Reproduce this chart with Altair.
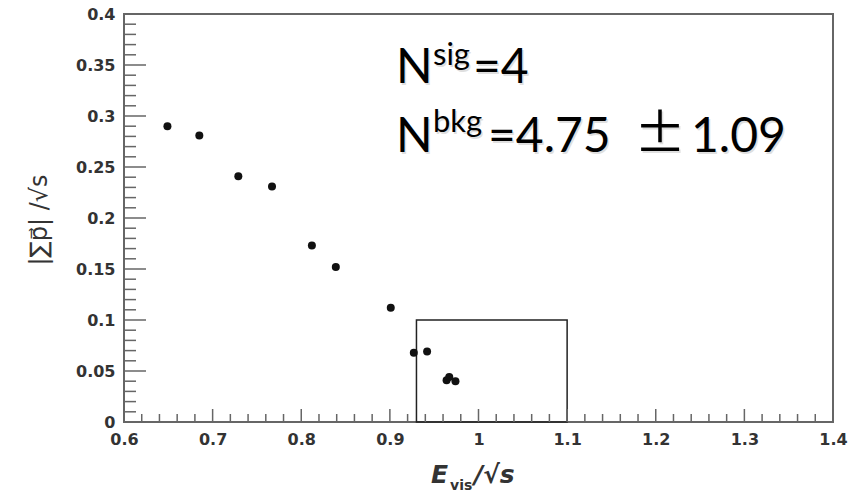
import altair as alt
import pandas as pd

# Event positions: visible energy vs. total momentum, both scaled by sqrt(s)
e_vis = [0.649, 0.685, 0.729, 0.767, 0.812, 0.839, 0.901, 0.927, 0.942, 0.964, 0.967, 0.974]
p_sum = [0.290, 0.281, 0.241, 0.231, 0.173, 0.152, 0.112, 0.068, 0.069, 0.041, 0.044, 0.040]

# Signal region box
box_x = [0.93, 1.10]
box_y = [0.0, 0.10]

# Axis ticks
x_major = [0.6, 0.7, 0.8, 0.9, 1.0, 1.1, 1.2, 1.3, 1.4]
x_minor = [round(0.6 + 0.02 * i, 2) for i in range(41) if i % 5 != 0]
y_major = [0.0, 0.05, 0.1, 0.15, 0.2, 0.25, 0.3, 0.35, 0.4]
y_minor = [round(0.01 * i, 2) for i in range(41) if i % 5 != 0]

W, H = 709, 408
FRAME = "#666666"
LABEL = "#333333"

xs = alt.Scale(domain=[0.6, 1.4], nice=False, zero=False)
ys = alt.Scale(domain=[0.0, 0.4], nice=False, zero=True)

axis_common = dict(
    format="~g", labelFont="DejaVu Sans", labelFontWeight="bold", labelFontSize=16,
    labelColor=LABEL, ticks=False, tickSize=0, domain=False, grid=False,
    labelFlush=False, labelPadding=9, title=None,
)

pts = pd.DataFrame({"e": e_vis, "p": p_sum})
points = alt.Chart(pts).mark_circle(size=64, color="#111111", opacity=1).encode(
    x=alt.X("e:Q", scale=xs, axis=alt.Axis(values=x_major, **axis_common)),
    y=alt.Y("p:Q", scale=ys, axis=alt.Axis(values=y_major, **axis_common)),
)

box = alt.Chart(pd.DataFrame({"x0": [box_x[0]], "x1": [box_x[1]], "y0": [box_y[0]], "y1": [box_y[1]]})).mark_rect(
    fill=None, fillOpacity=0, stroke="#222222", strokeWidth=1.5
).encode(
    x=alt.X("x0:Q", scale=xs), x2="x1:Q", y=alt.Y("y0:Q", scale=ys), y2="y1:Q"
)


def yticks(vals, length):
    return alt.Chart(pd.DataFrame({"v": vals})).mark_rule(color=FRAME, strokeWidth=1.5).encode(
        y=alt.Y("v:Q", scale=ys), x=alt.value(0), x2=alt.value(length)
    )


def xticks(vals, length):
    return alt.Chart(pd.DataFrame({"v": vals})).mark_rule(color=FRAME, strokeWidth=1.5).encode(
        x=alt.X("v:Q", scale=xs), y=alt.value(H), y2=alt.value(H - length)
    )


def label(text, x, y, size, font="Lato", color="black", weight="normal", style="normal",
          angle=0, align="left", baseline="alphabetic", opacity=1.0):
    return alt.Chart(pd.DataFrame({"t": [text]})).mark_text(
        font=font, fontSize=size, color=color, fontWeight=weight, fontStyle=style,
        angle=angle, align=align, baseline=baseline, opacity=opacity,
    ).encode(text="t:N", x=alt.value(x), y=alt.value(y))


# Event counts in the signal region, with a soft drop shadow
count_parts = [
    ("N", 272, 69, 48, "Lato"), ("sig", 309, 51, 31, "Lato"), ("=4", 349, 69, 48, "Lato"),
    ("N", 272, 138, 48, "Lato"), ("bkg", 309, 118, 31, "Lato"), ("=4.75", 364, 138, 48, "Lato"),
    ("±", 510, 138, 52, "Noto Sans CJK JP"), ("1.09", 567, 138, 48, "Lato"),
]
shadow = [label(t, x + 1.5, y + 1.5, s, font=f, color="#999999", opacity=0.3)
          for t, x, y, s, f in count_parts]
counts = [label(t, x, y, s, font=f) for t, x, y, s, f in count_parts]

# Axis titles
x_title = [
    label("E", 307, 469, 25, font="DejaVu Sans", color=LABEL, weight="bold", style="italic"),
    label("vis", 326, 476, 14, font="DejaVu Sans", color=LABEL, weight="bold"),
    label("/√s", 350, 469, 25, font="DejaVu Sans", color=LABEL, weight="bold", style="italic"),
]
y_title = label("|∑p⃗| /√s", -84, 206, 24, font="DejaVu Sans", color=LABEL,
                angle=270, align="center", baseline="middle")

chart = alt.layer(
    box, yticks(y_major, 22), yticks(y_minor, 12), xticks(x_major, 13), xticks(x_minor, 8),
    points, *shadow, *counts, *x_title, y_title,
).properties(
    width=W, height=H,
    autosize=alt.AutoSizeParams(type="none"),
    padding={"left": 124, "top": 14, "right": 18, "bottom": 74},
).configure_view(stroke=FRAME, strokeWidth=2)

chart.save("out.html", embed_options={"renderer": "svg", "actions": False})
